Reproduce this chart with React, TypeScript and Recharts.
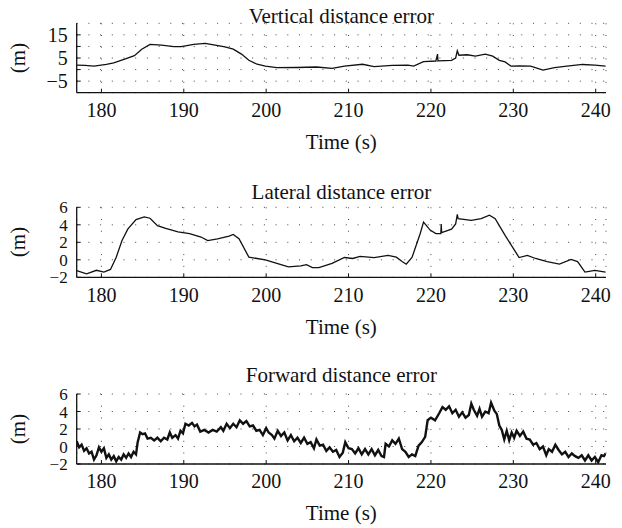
import React from "react";
import { LineChart, Line, XAxis, YAxis, CartesianGrid } from "recharts";

// time axis shared by the three panels
const timeTicks = [180, 190, 200, 210, 220, 230, 240];
const timeDomain = [177, 241.25];

// Vertical distance error (m)
const verticalT = [
  177, 178, 179.1, 180.6, 181.5, 183, 184, 184.9, 185.9, 187.3,
  188.8, 189.7, 191.2, 192.6, 193.8, 195, 196, 197, 197.9, 198.9,
  199.9, 201.3, 203.7, 206.1, 208, 209.5, 211.7, 213.1, 215.3, 217.2,
  217.9, 219.1, 220.6, 220.8, 220.85, 220.9, 222.5, 223.0, 223.2, 223.4,
  224.4, 225.4, 226.6, 227.5, 228.3, 229, 229.7, 230.7, 232.1, 233.6,
  235, 236.5, 238.4, 239.9, 241.2,
];
const verticalV = [
  1.9, 1.8, 1.5, 2.2, 2.9, 4.7, 6, 8.8, 10.9, 10.6,
  9.9, 9.9, 10.9, 11.3, 10.6, 9.8, 8.8, 6.7, 4, 2.3,
  1.5, 0.8, 0.9, 1.1, 0.5, 1.5, 2.3, 1.3, 1.8, 1.9,
  1.5, 3.4, 3.7, 6.7, 3.7, 3.8, 4, 5, 8.1, 6.2,
  6.4, 5.8, 6.7, 5.8, 4, 3.3, 1.5, 1.6, 1.5, -0.2,
  0.8, 1.5, 2.2, 1.9, 1.5,
];
const verticalTicks = [-5, 0, 5, 10, 15];
const verticalLabeled = [-5, 5, 15];

// Lateral distance error (m)
const lateralT = [
  177, 178.2, 179.4, 180.3, 181.1, 181.8, 182.5, 183.2, 184.2, 185.2,
  185.9, 186.8, 187.8, 189.3, 190.7, 192.1, 192.9, 194.1, 195.5, 196,
  196.7, 197.9, 198.9, 199.9, 201.3, 202.7, 204.2, 204.9, 205.6, 206.4,
  208, 209.5, 210.5, 211.4, 213.1, 214.8, 215.8, 216.5, 217, 217.7,
  218.7, 219.1, 219.9, 220.6, 221.2, 221.25, 221.3, 222.5, 223, 223.2,
  223.3, 224.9, 226.1, 227.1, 227.8, 229, 230, 230.7, 231.7, 232.7,
  234.1, 235.6, 237, 237.8, 238.7, 239.9, 241.2,
];
const lateralV = [
  -1.25, -1.6, -1.2, -1.4, -1.1, 0.3, 2.2, 3.5, 4.6, 4.9,
  4.75, 3.9, 3.6, 3.2, 3.0, 2.6, 2.2, 2.4, 2.7, 2.9,
  2.4, 0.3, 0.15, 0.0, -0.4, -0.8, -0.7, -0.55, -0.9, -0.9,
  -0.4, 0.26, 0.15, 0.4, 0.26, 0.5, 0.3, -0.2, -0.5, 0.26,
  3.0, 4.3, 3.4, 3.0, 3.0, 4.1, 3.1, 3.5, 4.1, 5.2,
  4.7, 4.5, 4.7, 5.1, 4.7, 2.8, 1.3, 0.26, 0.5, 0.15,
  -0.2, -0.5, 0.04, -0.2, -1.4, -1.2, -1.4,
];
const smallTicks = [-2, 0, 2, 4, 6];

// Forward distance error (m)
const forwardT = [
  177.0, 177.3, 177.6, 177.9, 178.2, 178.5, 178.8, 179.1, 179.4, 179.7,
  180.0, 180.3, 180.6, 180.9, 181.2, 181.5, 181.8, 182.1, 182.4, 182.7,
  183.0, 183.3, 183.6, 183.9, 184.2, 184.4, 184.7, 185.0, 185.3, 185.6,
  186.0, 186.4, 186.8, 187.2, 187.6, 188.0, 188.3, 188.6, 189.0, 189.3,
  189.6, 189.9, 190.2, 190.6, 191.0, 191.3, 191.6, 192.0, 192.5, 193.0,
  193.5, 194.0, 194.5, 194.8, 195.2, 195.6, 196.0, 196.4, 196.8, 197.2,
  197.6, 198.0, 198.4, 198.8, 199.2, 199.6, 200.0, 200.3, 200.7, 201.0,
  201.4, 201.8, 202.2, 202.6, 203.0, 203.4, 203.8, 204.2, 204.6, 205.0,
  205.4, 205.8, 206.1, 206.5, 206.9, 207.3, 207.7, 208.1, 208.5, 208.9,
  209.3, 209.6, 210.0, 210.4, 210.8, 211.2, 211.6, 212.0, 212.4, 212.8,
  213.2, 213.6, 214.0, 214.3, 214.5, 214.9, 215.3, 215.7, 216.1, 216.5,
  216.9, 217.3, 217.7, 218.1, 218.5, 218.9, 219.3, 219.6, 220.0, 220.5,
  221.0, 221.4, 221.8, 222.2, 222.6, 223.0, 223.4, 223.8, 224.2, 224.6,
  224.9, 225.2, 225.6, 225.9, 226.2, 226.6, 227.0, 227.3, 227.7, 228.0,
  228.3, 228.6, 228.9, 229.2, 229.5, 229.8, 230.1, 230.4, 230.8, 231.2,
  231.6, 232.0, 232.4, 232.8, 233.2, 233.6, 234.0, 234.3, 234.7, 235.1,
  235.5, 235.9, 236.3, 236.7, 237.1, 237.5, 237.9, 238.3, 238.7, 239.1,
  239.5, 239.9, 240.3, 240.7, 241.0, 241.2,
];
const forwardV = [
  0.6, -0.1, 0.2, -0.5, -0.2, -0.8, -0.6, -1.5, -1.0, -0.1,
  -0.6, -0.2, -1.3, -0.9, -1.5, -1.1, -1.7, -1.2, -1.5, -0.9,
  -1.3, -0.8, -1.2, -0.6, -0.9, 0.5, 1.6, 1.4, 1.5, 0.9,
  1.0, 0.7, 1.0, 0.6, 1.0, 0.8, 1.6, 1.0, 1.3, 0.9,
  1.8, 1.5, 2.6, 2.4, 2.7, 2.3, 2.5, 1.7, 1.9, 1.6,
  1.9, 1.7, 2.2, 1.8, 2.6, 2.1, 2.6, 2.2, 3.0, 2.6,
  2.9, 2.3, 2.4, 1.8, 1.9, 1.3, 2.1, 1.6, 1.3, 0.9,
  1.8, 1.2, 1.6, 0.7, 1.3, 0.6, 1.0, 0.4, 1.0, 0.3,
  0.5, -0.2, 0.8, 0.1, 0.2, -0.5, -0.1, -0.6, -0.4, -1.2,
  -0.7, 0.5, -0.2, -0.3, -0.8, -0.2, -0.9, -0.3, -0.9, -0.3,
  -1.0, -0.4, -1.1, -1.2, 0.3, 0.0, 0.7, 0.3, 0.9, -0.3,
  -0.6, -1.2, -0.9, -1.1, 0.1, 0.5, 1.1, 3.0, 3.3, 3.0,
  3.8, 4.5, 4.2, 4.6, 3.8, 4.2, 3.4, 3.9, 3.3, 3.6,
  4.9, 4.2, 3.5, 4.3, 3.4, 4.0, 3.8, 5.0, 4.1, 3.7,
  2.4, 1.9, 0.8, 1.8, 0.7, 1.6, 1.0, 1.8, 1.2, 1.7,
  0.9, 0.8, 0.2, 0.4, -0.3, 0.0, -1.0, -0.3, -0.6, 0.2,
  -0.4, -0.9, -0.6, -1.2, -0.8, -1.1, -1.3, -1.0, -1.6, -1.0,
  -1.6, -1.2, -1.8, -1.0, -1.1, -0.8,
];

const FONT = "'Liberation Serif', 'Times New Roman', serif";
const W = 622;
const PLOT_LEFT = 76.7;
const PLOT_RIGHT = 606;
const CHART_H = 150;

const zip = (ts: number[], vs: number[]) => ts.map((t, i) => ({ t, v: vs[i] }));
const fmt = (labeled?: number[]) => (v: number) => {
  if (labeled && !labeled.includes(v)) return "";
  return v < 0 ? `\u2212${Math.abs(v)}` : `${v}`;
};

const text: React.CSSProperties = {
  position: "absolute",
  transform: "translate(-50%, -50%)",
  fontFamily: FONT,
  fontSize: 21,
  color: "#111",
  whiteSpace: "nowrap",
  lineHeight: 1,
};

function Panel({ title, top, plotTop, plotBottom, titleY, timeY, data, yDomain, yTicks, labeled, yFont, strokeWidth }: any) {
  const centerX = (PLOT_LEFT + PLOT_RIGHT) / 2;
  return (
    <>
      <div style={{ ...text, left: centerX, top: titleY }}>{title}</div>
      <div style={{ ...text, left: centerX, top: timeY }}>Time (s)</div>
      <div style={{ ...text, left: 18, top: (plotTop + plotBottom) / 2, transform: "translate(-50%, -50%) rotate(-90deg)" }}>(m)</div>
      <div style={{ position: "absolute", left: 0, top }}>
        <LineChart
          width={W}
          height={CHART_H}
          data={data}
          margin={{ top: plotTop - top, right: W - PLOT_RIGHT, bottom: 0, left: 0 }}
        >
          <CartesianGrid stroke="#444" strokeDasharray="1 10.7" strokeWidth={1} />
          <XAxis
            dataKey="t"
            type="number"
            domain={timeDomain}
            ticks={timeTicks}
            interval={0}
            allowDataOverflow
            height={CHART_H - (plotBottom - top)}
            tickSize={-4}
            tickMargin={14}
            axisLine={{ stroke: "#111", strokeWidth: 1.3 }}
            tickLine={{ stroke: "#111" }}
            tick={{ fill: "#111", fontSize: 20, fontFamily: FONT }}
          />
          <YAxis
            type="number"
            domain={yDomain}
            ticks={yTicks}
            interval={0}
            allowDataOverflow
            width={PLOT_LEFT}
            tickSize={-4}
            tickMargin={13}
            tickFormatter={fmt(labeled)}
            axisLine={{ stroke: "#111", strokeWidth: 1.3 }}
            tickLine={{ stroke: "#111" }}
            tick={{ fill: "#111", fontSize: yFont, fontFamily: FONT }}
          />
          <Line
            type="linear"
            dataKey="v"
            stroke="#111"
            strokeWidth={strokeWidth}
            dot={false}
            isAnimationActive={false}
          />
        </LineChart>
      </div>
    </>
  );
}

export default function App() {
  return (
    <div style={{ position: "absolute", left: 0, top: 0, width: W, height: 528, background: "#fff", overflow: "hidden" }}>
      <Panel
        title="Vertical distance error"
        top={0}
        plotTop={23.3}
        plotBottom={92.7}
        titleY={16}
        timeY={142}
        data={zip(verticalT, verticalV)}
        yDomain={[-10, 20]}
        yTicks={verticalTicks}
        labeled={verticalLabeled}
        yFont={20}
        strokeWidth={1.3}
      />
      <Panel
        title="Lateral distance error"
        top={170}
        plotTop={207.3}
        plotBottom={277.3}
        titleY={192}
        timeY={327}
        data={zip(lateralT, lateralV)}
        yDomain={[-2, 6]}
        yTicks={smallTicks}
        yFont={17}
        strokeWidth={1.3}
      />
      <Panel
        title="Forward distance error"
        top={355}
        plotTop={394}
        plotBottom={464}
        titleY={375}
        timeY={513}
        data={zip(forwardT, forwardV)}
        yDomain={[-2, 6]}
        yTicks={smallTicks}
        yFont={17}
        strokeWidth={2.4}
      />
    </div>
  );
}
